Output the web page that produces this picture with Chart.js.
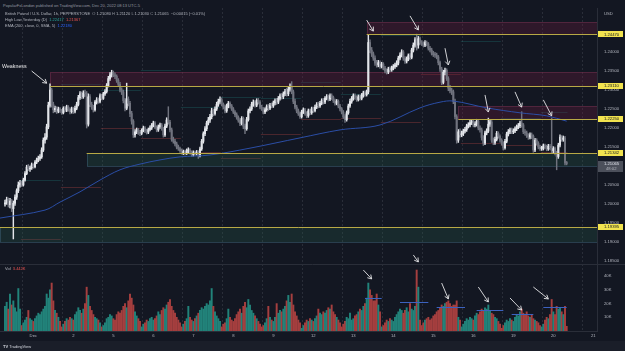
<!DOCTYPE html>
<html><head><meta charset="utf-8">
<script src="https://cdn.jsdelivr.net/npm/chart.js@4.4.0/dist/chart.umd.min.js"></script>
<style>
html,body{margin:0;padding:0;background:#131722;width:625px;height:351px;overflow:hidden;font-family:"Liberation Sans",Arial,sans-serif;}
#wrap{position:relative;width:625px;height:351px;}
canvas{position:absolute;left:0;}
#cPrice{top:8px;width:625px;height:256px;}
#cVol{top:250px;width:625px;height:90px;}
.t{position:absolute;white-space:nowrap;font-size:4px;line-height:5px;color:#b2b5be;}
#foot{position:absolute;left:0;top:341px;width:625px;height:10px;background:#1a1e29;}
</style></head>
<body><div id="wrap">
<canvas id="cPrice" width="625" height="256"></canvas>
<canvas id="cVol" width="625" height="90"></canvas>
<div class="t" style="left:3px;top:3px;color:#9598a1">PopularFxLondon published on TradingView.com, Dec 20, 2022 08:13 UTC-5</div>
<div class="t" style="left:5px;top:11px">British Pound / U.S. Dollar, 1h, PEPPERSTONE&nbsp; <span style="color:#9598a1">O</span> 1.21080 <span style="color:#9598a1">H</span> 1.21120 <span style="color:#9598a1">L</span> 1.21030 <span style="color:#9598a1">C</span> 1.21065 &nbsp;−0.00015 (−0.01%)</div>
<div class="t" style="left:5px;top:17px">High Low Yesterday (D)&nbsp; <span style="color:#26a69a">1.22417</span>&nbsp; <span style="color:#ef5350">1.21367</span></div>
<div class="t" style="left:5px;top:23px">EMA (200, close, 0, SMA, 5)&nbsp; <span style="color:#2962ff">1.22180</span></div>
<div class="t" id="volLbl" style="left:5px;top:266px">Vol&nbsp; <span style="color:#ef5350" id="volVal"></span></div>
<div id="foot"><div class="t" style="left:3px;top:3px;color:#d1d4dc"><b>TV</b> TradingView</div></div>
</div>
<script>
// ---------- DATA ----------
const firstOpen = 1.2000;
const close = [
1.2003,1.2012,1.1998,1.2008,1.1988,1.2002,1.2018,1.2035,1.2050,1.2055,
1.2050,1.2063,1.2080,1.2097,1.2092,1.2095,1.2103,1.2098,1.2110,1.2116,
1.2120,1.2124,1.2142,1.2168,1.2176,1.2203,1.2260,1.2300,1.2262,1.2248,
1.2252,1.2244,1.2250,1.2246,1.2240,1.2252,1.2247,1.2255,1.2249,1.2243,
1.2250,1.2244,1.2252,1.2262,1.2280,1.2290,1.2282,1.2292,1.2290,1.2210,
1.2282,1.2262,1.2255,1.2248,1.2268,1.2274,1.2270,1.2285,1.2278,1.2290,
1.2296,1.2312,1.2330,1.2340,1.2346,1.2340,1.2336,1.2325,1.2315,1.2300,
1.2295,1.2272,1.2252,1.2276,1.2265,1.2238,1.2218,1.2182,1.2190,1.2195,
1.2188,1.2186,1.2194,1.2200,1.2192,1.2189,1.2196,1.2200,1.2207,1.2213,
1.2202,1.2195,1.2203,1.2208,1.2198,1.2182,1.2205,1.2221,1.2215,1.2195,
1.2170,1.2165,1.2158,1.2150,1.2146,1.2140,1.2135,1.2138,1.2134,1.2140,
1.2142,1.2136,1.2130,1.2135,1.2133,1.2136,1.2128,1.2145,1.2165,1.2185,
1.2198,1.2213,1.2221,1.2230,1.2245,1.2238,1.2250,1.2262,1.2270,1.2275,
1.2262,1.2255,1.2245,1.2258,1.2265,1.2258,1.2250,1.2242,1.2235,1.2228,
1.2220,1.2212,1.2225,1.2205,1.2198,1.2222,1.2245,1.2250,1.2262,1.2268,
1.2260,1.2272,1.2268,1.2255,1.2250,1.2242,1.2248,1.2256,1.2252,1.2260,
1.2258,1.2266,1.2272,1.2268,1.2278,1.2285,1.2282,1.2290,1.2296,1.2290,
1.2302,1.2310,1.2295,1.2270,1.2255,1.2245,1.2238,1.2230,1.2242,1.2248,
1.2238,1.2232,1.2245,1.2240,1.2250,1.2246,1.2255,1.2262,1.2258,1.2265,
1.2272,1.2268,1.2278,1.2282,1.2276,1.2285,1.2280,1.2272,1.2265,1.2270,
1.2258,1.2250,1.2242,1.2230,1.2222,1.2240,1.2258,1.2270,1.2278,1.2285,
1.2280,1.2275,1.2282,1.2278,1.2286,1.2292,1.2288,1.2295,1.2425,1.2405,
1.2395,1.2384,1.2371,1.2366,1.2372,1.2362,1.2368,1.2358,1.2350,1.2347,
1.2355,1.2353,1.2358,1.2362,1.2366,1.2371,1.2384,1.2392,1.2400,1.2384,
1.2376,1.2382,1.2390,1.2386,1.2405,1.2418,1.2432,1.2418,1.2435,1.2425,
1.2422,1.2418,1.2425,1.2421,1.2410,1.2405,1.2397,1.2393,1.2392,1.2387,
1.2372,1.2355,1.2320,1.2347,1.2352,1.2330,1.2305,1.2298,1.2295,1.2270,
1.2230,1.2168,1.2190,1.2182,1.2185,1.2192,1.2196,1.2205,1.2208,1.2214,
1.2216,1.2208,1.2210,1.2218,1.2200,1.2195,1.2175,1.2160,1.2187,1.2192,
1.2210,1.2216,1.2168,1.2162,1.2170,1.2186,1.2178,1.2168,1.2160,1.2148,
1.2165,1.2184,1.2190,1.2195,1.2190,1.2192,1.2198,1.2203,1.2206,1.2213,
1.2208,1.2190,1.2187,1.2180,1.2176,1.2182,1.2178,1.2142,1.2168,1.2160,
1.2150,1.2146,1.2147,1.2153,1.2150,1.2145,1.2152,1.2148,1.2140,1.2146,
1.2134,1.2125,1.2155,1.2176,1.2170,1.2174,1.2108,1.21065];
const high = [
1.2010,1.2018,1.2016,1.2015,1.2012,1.2008,1.2024,1.2040,1.2058,1.2062,
1.2060,1.2068,1.2085,1.2102,1.2104,1.2100,1.2108,1.2106,1.2114,1.2121,
1.2126,1.2130,1.2148,1.2174,1.2185,1.2210,1.2268,1.2316,1.2305,1.2268,
1.2258,1.2256,1.2255,1.2254,1.2249,1.2256,1.2257,1.2260,1.2259,1.2253,
1.2255,1.2254,1.2258,1.2268,1.2286,1.2296,1.2295,1.2298,1.2300,1.2296,
1.2290,1.2288,1.2268,1.2260,1.2272,1.2280,1.2279,1.2290,1.2289,1.2294,
1.2301,1.2317,1.2336,1.2346,1.2352,1.2350,1.2345,1.2340,1.2330,1.2320,
1.2306,1.2300,1.2278,1.2318,1.2282,1.2270,1.2244,1.2222,1.2196,1.2200,
1.2199,1.2194,1.2198,1.2205,1.2204,1.2197,1.2200,1.2206,1.2212,1.2218,
1.2217,1.2206,1.2208,1.2213,1.2212,1.2202,1.2210,1.2227,1.2256,1.2220,
1.2200,1.2176,1.2170,1.2163,1.2155,1.2150,1.2145,1.2142,1.2142,1.2145,
1.2148,1.2146,1.2140,1.2140,1.2139,1.2141,1.2140,1.2150,1.2170,1.2190,
1.2204,1.2218,1.2228,1.2236,1.2252,1.2250,1.2256,1.2268,1.2276,1.2282,
1.2279,1.2266,1.2260,1.2263,1.2270,1.2269,1.2262,1.2254,1.2246,1.2240,
1.2232,1.2225,1.2230,1.2229,1.2210,1.2228,1.2250,1.2256,1.2268,1.2274,
1.2272,1.2277,1.2278,1.2272,1.2260,1.2254,1.2253,1.2261,1.2262,1.2265,
1.2266,1.2271,1.2277,1.2278,1.2283,1.2290,1.2291,1.2295,1.2302,1.2305,
1.2308,1.2316,1.2322,1.2300,1.2276,1.2260,1.2250,1.2242,1.2247,1.2253,
1.2252,1.2243,1.2250,1.2250,1.2255,1.2255,1.2260,1.2267,1.2268,1.2270,
1.2277,1.2278,1.2283,1.2288,1.2287,1.2290,1.2290,1.2284,1.2276,1.2275,
1.2274,1.2262,1.2254,1.2246,1.2235,1.2245,1.2263,1.2276,1.2283,1.2290,
1.2290,1.2285,1.2287,1.2287,1.2291,1.2297,1.2298,1.2300,1.2445,1.2432,
1.2412,1.2400,1.2390,1.2378,1.2378,1.2377,1.2373,1.2372,1.2362,1.2356,
1.2360,1.2361,1.2363,1.2367,1.2371,1.2377,1.2389,1.2398,1.2406,1.2404,
1.2388,1.2387,1.2395,1.2396,1.2410,1.2424,1.2438,1.2447,1.2441,1.2439,
1.2430,1.2427,1.2430,1.2429,1.2425,1.2415,1.2410,1.2402,1.2399,1.2397,
1.2391,1.2376,1.2360,1.2352,1.2358,1.2356,1.2335,1.2312,1.2305,1.2300,
1.2276,1.2235,1.2196,1.2198,1.2192,1.2197,1.2202,1.2210,1.2214,1.2220,
1.2222,1.2220,1.2216,1.2223,1.2222,1.2206,1.2200,1.2180,1.2192,1.2198,
1.2226,1.2222,1.2220,1.2174,1.2176,1.2191,1.2190,1.2182,1.2172,1.2164,
1.2170,1.2189,1.2196,1.2200,1.2200,1.2198,1.2203,1.2208,1.2212,1.2218,
1.2243,1.2212,1.2196,1.2192,1.2185,1.2187,1.2187,1.2182,1.2173,1.2172,
1.2164,1.2155,1.2152,1.2158,1.2158,1.2155,1.2157,1.2157,1.2226,1.2151,
1.2150,1.2139,1.2160,1.2182,1.2180,1.2179,1.2178,1.2112];
const low = [
1.1994,1.1999,1.1992,1.1990,1.1980,1.1908,1.1996,1.2012,1.2030,1.2044,
1.2046,1.2047,1.2060,1.2077,1.2088,1.2086,1.2091,1.2094,1.2095,1.2106,
1.2111,1.2115,1.2120,1.2138,1.2160,1.2170,1.2198,1.2255,1.2255,1.2240,
1.2242,1.2238,1.2240,1.2241,1.2236,1.2237,1.2243,1.2243,1.2244,1.2237,
1.2239,1.2238,1.2240,1.2248,1.2258,1.2275,1.2277,1.2278,1.2283,1.2200,
1.2205,1.2256,1.2249,1.2242,1.2244,1.2263,1.2265,1.2266,1.2274,1.2275,
1.2286,1.2292,1.2308,1.2325,1.2334,1.2335,1.2330,1.2320,1.2310,1.2295,
1.2288,1.2266,1.2245,1.2248,1.2258,1.2230,1.2210,1.2175,1.2176,1.2185,
1.2183,1.2180,1.2182,1.2190,1.2188,1.2184,1.2185,1.2192,1.2196,1.2203,
1.2198,1.2190,1.2191,1.2199,1.2194,1.2176,1.2178,1.2201,1.2210,1.2190,
1.2165,1.2160,1.2153,1.2145,1.2141,1.2136,1.2131,1.2130,1.2129,1.2130,
1.2135,1.2131,1.2125,1.2126,1.2128,1.2129,1.2120,1.2124,1.2141,1.2160,
1.2180,1.2193,1.2208,1.2215,1.2224,1.2232,1.2234,1.2246,1.2257,1.2265,
1.2258,1.2250,1.2240,1.2241,1.2253,1.2253,1.2246,1.2238,1.2230,1.2223,
1.2215,1.2206,1.2208,1.2198,1.2185,1.2194,1.2218,1.2240,1.2246,1.2257,
1.2255,1.2256,1.2263,1.2250,1.2246,1.2237,1.2238,1.2244,1.2246,1.2248,
1.2253,1.2254,1.2261,1.2262,1.2264,1.2273,1.2276,1.2277,1.2285,1.2284,
1.2285,1.2297,1.2290,1.2264,1.2250,1.2240,1.2233,1.2225,1.2226,1.2238,
1.2234,1.2227,1.2228,1.2235,1.2236,1.2241,1.2242,1.2251,1.2253,1.2254,
1.2261,1.2263,1.2264,1.2274,1.2271,1.2272,1.2275,1.2267,1.2260,1.2261,
1.2253,1.2245,1.2237,1.2225,1.2215,1.2218,1.2236,1.2254,1.2265,1.2273,
1.2275,1.2270,1.2271,1.2273,1.2274,1.2281,1.2283,1.2284,1.2290,1.2398,
1.2388,1.2378,1.2365,1.2360,1.2361,1.2357,1.2358,1.2353,1.2345,1.2342,
1.2343,1.2348,1.2349,1.2353,1.2357,1.2361,1.2366,1.2379,1.2387,1.2378,
1.2370,1.2371,1.2377,1.2380,1.2382,1.2400,1.2413,1.2405,1.2410,1.2420,
1.2417,1.2413,1.2414,1.2416,1.2405,1.2400,1.2392,1.2388,1.2386,1.2382,
1.2366,1.2349,1.2314,1.2316,1.2340,1.2325,1.2298,1.2292,1.2288,1.2264,
1.2224,1.2160,1.2162,1.2176,1.2177,1.2180,1.2187,1.2191,1.2200,1.2203,
1.2209,1.2203,1.2203,1.2205,1.2195,1.2189,1.2168,1.2154,1.2156,1.2182,
1.2188,1.2204,1.2162,1.2156,1.2157,1.2166,1.2173,1.2163,1.2155,1.2142,
1.2144,1.2161,1.2179,1.2185,1.2185,1.2185,1.2188,1.2193,1.2198,1.2201,
1.2202,1.2185,1.2181,1.2175,1.2170,1.2171,1.2172,1.2136,1.2138,1.2155,
1.2145,1.2141,1.2141,1.2142,1.2145,1.2140,1.2141,1.2143,1.2135,1.2134,
1.2129,1.2090,1.2120,1.2150,1.2165,1.2165,1.2103,1.2103];
const volume = [ // thousands
18,21,16,27,19,22,17,14,31,16,
4,6,8,10,15,9,8,7,9,11,
13,12,14,16,18,27,24,30,35,22,
15,13,10,7,3,5,7,9,8,10,
9,8,12,14,17,15,13,16,20,32,
26,18,15,12,10,9,8,6,3,4,
6,9,10,12,11,9,8,12,14,13,
15,18,20,17,22,27,24,19,14,11,
9,7,3,5,6,8,7,9,10,8,
9,11,14,12,15,17,16,19,21,23,
18,15,13,10,8,6,3,5,7,9,
18,10,8,7,9,11,13,15,17,16,
18,20,19,22,31,18,14,11,9,7,
3,5,6,9,16,10,8,7,9,12,
14,16,13,18,21,17,23,19,15,13,
11,9,7,5,3,4,6,9,18,10,
8,7,10,20,13,15,14,16,18,22,
26,21,27,19,14,11,8,6,2,4,
6,8,7,9,8,7,9,11,16,13,
12,14,13,15,17,16,19,14,12,10,
8,6,3,5,7,10,9,13,8,9,
11,12,14,16,15,18,20,24,35,30,
26,22,22,27,19,14,3,4,6,8,
7,9,8,7,10,12,14,16,15,13,
15,17,14,20,16,15,18,44.5,32,8,
4,6,8,9,10,8,9,11,12,14,
15,17,19,18,20,21,22,20,18,19,
19,22,10,8,3,5,7,9,8,10,
9,8,11,13,12,14,16,15,17,16,
19,15,13,12,10,9,7,5,2,4,
6,8,7,9,8,7,10,12,11,14,
16,13,12,14,11,10,12,9,8,7,
6,4,3,5,8,10,9,12,23,14,
12,18,16,17,14,12,18,3.442];

// EMA(200) (bar index, value)
const emaIdx = [-3,24,33,45,57,69,81,93,105,123,147,177,201,225,249,261,269,289,309,325,337];
const emaVal = [1.1963,1.1984,1.2005,1.2032,1.2063,1.2090,1.2105,1.2116,1.2124,1.2129,1.2147,1.2174,1.2195,1.2208,1.2253,1.2268,1.2271,1.2253,1.2240,1.2232,1.2218];

// axis ticks
const priceTicks = [1.185,1.19,1.195,1.2,1.205,1.21,1.215,1.22,1.225,1.23,1.235,1.24,1.245,1.25];
const volTicks = [10,20,30,40];
const dayTicks = [17,41,65,89,113,137,161,185,209,233,257,281,305,329,353];
const dayLabels = ['Dec','2','5','6','7','8','9','12','13','14','15','16','19','20','21'];
const sessionBreaks = [10,34,58,82,106,130,154,178,202,226,250,274,298,322,346];

// supply / demand zones
const zoneStart  = [217, 27, 272, 49, -3];
const zoneTop    = [1.24789, 1.23461, 1.22579, 1.21342, 1.19395];
const zoneBottom = [1.24470, 1.23110, 1.22250, 1.20987, 1.19013];
const zoneKind   = ['supply','supply','supply','demand','demand'];
// horizontal levels
const levelStart = [217, 27, 272, 49, -3];
const levelPrice = [1.24470, 1.23110, 1.22250, 1.21342, 1.19395];

// annotations: [tailIdx, tailValue, headIdx, headValue]
const priceArrows = [[16,1.2350,25,1.2318],[217,1.2484,221,1.2455],[243,1.2495,248,1.2458],[264,1.2410,266,1.2366],[288,1.2287,290,1.2242],[306,1.2295,310,1.2255],[323,1.2274,328,1.2232]];
const weaknessNote = {idx:-1.8, price:1.2363, text:'Weakness'};
const volArrows = [[215,44.5,220,38],[245,55.5,248,50.4],[262,35,266,23.4],[284,32.1,290,21.2],[303,24.1,310,15.3],[317,32.1,326,23.4]];
const volLevels = [[216,226,24],[237,254,21],[259,276,17.5],[283,299,15.3],[304,317,12.4],[323,337,17.5]];
const countdown = '48:02';

// ---------- RENDER ----------
const xMin = -3, xMax = 355.2;
const pMin = 1.18421, pMax = 1.25158;
const volMax = 48.9;
const FONT = '"Liberation Sans", Arial, sans-serif';
const N = close.length;
const open = close.map((c,i)=> i===0 ? firstOpen : close[i-1]);
const isUp = close.map((c,i)=> c >= open[i]);
const upC = '#e3e5ea', dnC = '#70737e';
const candleColors = isUp.map(u=>u?upC:dnC);
const volColors = isUp.map(u=>u?'#22837a':'#a53f3f');
document.getElementById('volVal').textContent = volume[N-1].toFixed(3)+'K';

function noPad(s){ s.paddingTop=0; s.paddingBottom=0; s.paddingLeft=0; s.paddingRight=0; }
function arrow(ctx,x1,y1,x2,y2){
  const a = Math.atan2(y2-y1,x2-x1), L = 4.5;
  ctx.beginPath(); ctx.moveTo(x1,y1); ctx.lineTo(x2,y2);
  ctx.moveTo(x2-L*Math.cos(a-0.55), y2-L*Math.sin(a-0.55));
  ctx.lineTo(x2,y2);
  ctx.lineTo(x2-L*Math.cos(a+0.55), y2-L*Math.sin(a+0.55));
  ctx.stroke();
}
function vgrid(chart){
  const {ctx, chartArea:a, scales:{x}} = chart;
  ctx.save(); ctx.strokeStyle='#2a2e39'; ctx.lineWidth=1; ctx.setLineDash([2,2]);
  sessionBreaks.forEach(g=>{const X=Math.round(x.getPixelForValue(g))+0.5; if(X>a.right) return; ctx.beginPath(); ctx.moveTo(X,a.top); ctx.lineTo(X,a.bottom); ctx.stroke();});
  ctx.restore();
}

const pricePlugin = {
  id:'pricePlugin',
  beforeDatasetsDraw(chart){
    const {ctx, chartArea:a, scales:{x,y}} = chart;
    vgrid(chart);
    ctx.save();
    ctx.beginPath(); ctx.rect(a.left,a.top,a.right-a.left,a.bottom-a.top); ctx.clip();
    // previous-session high / low (High Low Yesterday)
    const bounds = [0].concat(sessionBreaks.filter(b=>b<N)).concat([N]);
    for(let s=1;s<bounds.length-1;s++){
      const ps=bounds[s-1], pe=bounds[s], st=bounds[s], en=bounds[s+1];
      let ph=-1, pl=9;
      for(let i=ps;i<pe;i++){ph=Math.max(ph,high[i]); pl=Math.min(pl,low[i]);}
      const X0=x.getPixelForValue(st-0.5), X1=x.getPixelForValue(en-0.5);
      ctx.lineWidth=1;
      ctx.strokeStyle='rgba(38,166,154,0.22)';
      ctx.beginPath(); ctx.moveTo(X0,Math.round(y.getPixelForValue(ph))+0.5); ctx.lineTo(X1,Math.round(y.getPixelForValue(ph))+0.5); ctx.stroke();
      ctx.strokeStyle='rgba(239,83,80,0.25)';
      ctx.beginPath(); ctx.moveTo(X0,Math.round(y.getPixelForValue(pl))+0.5); ctx.lineTo(X1,Math.round(y.getPixelForValue(pl))+0.5); ctx.stroke();
    }
    // zones
    zoneStart.forEach((s,k)=>{
      const X0=Math.round(x.getPixelForValue(s)), Y0=Math.round(y.getPixelForValue(zoneTop[k])), Y1=Math.round(y.getPixelForValue(zoneBottom[k]));
      const sup = zoneKind[k]==='supply';
      ctx.fillStyle = sup ? 'rgba(110,28,62,0.30)' : 'rgba(40,100,80,0.25)';
      ctx.fillRect(X0,Y0,a.right-X0,Y1-Y0);
      ctx.strokeStyle = sup ? 'rgba(125,55,85,0.45)' : 'rgba(60,95,115,0.55)';
      ctx.lineWidth=1;
      ctx.strokeRect(X0+0.5,Y0+0.5,a.right-X0,Y1-Y0);
    });
    ctx.restore();
  },
  afterDatasetsDraw(chart){
    const {ctx, chartArea:a, scales:{x,y}} = chart;
    ctx.save();
    ctx.strokeStyle='#b8a945'; ctx.lineWidth=1;
    levelPrice.forEach((p,k)=>{
      const Y=Math.round(y.getPixelForValue(p))+0.5, X0=Math.max(a.left,x.getPixelForValue(levelStart[k]));
      ctx.beginPath(); ctx.moveTo(X0,Y); ctx.lineTo(a.right,Y); ctx.stroke();
    });
    ctx.strokeStyle='#e8e8ea'; ctx.lineWidth=0.9;
    priceArrows.forEach(r=>arrow(ctx,x.getPixelForValue(r[0]),y.getPixelForValue(r[1]),x.getPixelForValue(r[2]),y.getPixelForValue(r[3])));
    ctx.fillStyle='#e8e8ea'; ctx.font='5.3px '+FONT; ctx.textBaseline='middle'; ctx.textAlign='left';
    ctx.fillText(weaknessNote.text, x.getPixelForValue(weaknessNote.idx), y.getPixelForValue(weaknessNote.price));
    ctx.restore();
  },
  afterDraw(chart){
    const {ctx, chartArea:a, scales:{y}} = chart;
    ctx.save();
    ctx.font='4.2px '+FONT; ctx.textBaseline='middle'; ctx.textAlign='left';
    levelPrice.forEach(p=>{
      const Y=y.getPixelForValue(p);
      ctx.fillStyle='#f2e34f'; ctx.fillRect(a.right+1,Math.round(Y)-3,25,6);
      ctx.fillStyle='#131722'; ctx.fillText(p.toFixed(5),a.right+7,Y+0.3);
    });
    const cp = close[N-1], Yc = y.getPixelForValue(cp);
    ctx.fillStyle='#4c505b'; ctx.fillRect(a.right+1,Math.round(Yc)-3,25,11);
    ctx.fillStyle='#e0e3eb'; ctx.fillText(cp.toFixed(5),a.right+7,Yc+0.3);
    ctx.fillStyle='#b2b5be'; ctx.fillText(countdown,a.right+9,Yc+5.3);
    ctx.restore();
  }
};

new Chart(document.getElementById('cPrice'), {
  type:'bar',
  data:{datasets:[
    {type:'line', data: emaIdx.map((v,k)=>({x:v,y:emaVal[k]})), borderColor:'#2b4ea6', borderWidth:1, pointRadius:0, pointHoverRadius:0, tension:0.35, order:0},
    {data: close.map((c,i)=>({x:i,y:[low[i],high[i]]})), backgroundColor:candleColors, barThickness:0.8, grouped:false, order:2},
    {data: close.map((c,i)=>({x:i,y:[open[i],c]})), backgroundColor:candleColors, barThickness:1.4, minBarLength:1, grouped:false, order:1}
  ]},
  options:{
    responsive:false, animation:false, devicePixelRatio:1,
    layout:{padding:0, autoPadding:false},
    plugins:{legend:{display:false}, tooltip:{enabled:false}},
    scales:{
      x:{type:'linear', min:xMin, max:xMax, display:false, offset:false},
      y:{position:'right', min:pMin, max:pMax,
         afterFit:s=>{s.width=28; noPad(s);},
         afterBuildTicks:s=>{s.ticks=priceTicks.map(v=>({value:v}));},
         ticks:{padding:7, color:'#b2b5be', font:{size:4.2, family:FONT}, callback:v=> v===1.25?'USD':Number(v).toFixed(5)},
         grid:{display:false, drawTicks:false},
         border:{display:true, color:'#2a2e39'}}
    }
  },
  plugins:[pricePlugin]
});

const volPlugin = {
  id:'volPlugin',
  beforeDatasetsDraw(chart){
    const {ctx, chartArea:a} = chart;
    vgrid(chart);
    ctx.save(); ctx.strokeStyle='#2a2e39'; ctx.lineWidth=1;
    ctx.beginPath(); ctx.moveTo(0,Math.round(a.top)+0.5); ctx.lineTo(chart.width,Math.round(a.top)+0.5); ctx.stroke();
    ctx.restore();
  },
  afterDatasetsDraw(chart){
    const {ctx, scales:{x,y}} = chart;
    ctx.save();
    ctx.strokeStyle='#3c62c0'; ctx.lineWidth=1;
    volLevels.forEach(r=>{const Y=Math.round(y.getPixelForValue(r[2]))+0.5; ctx.beginPath(); ctx.moveTo(x.getPixelForValue(r[0]),Y); ctx.lineTo(x.getPixelForValue(r[1]),Y); ctx.stroke();});
    ctx.strokeStyle='#e8e8ea'; ctx.lineWidth=0.9;
    volArrows.forEach(r=>arrow(ctx,x.getPixelForValue(r[0]),y.getPixelForValue(r[1]),x.getPixelForValue(r[2]),y.getPixelForValue(r[3])));
    ctx.restore();
  }
};

new Chart(document.getElementById('cVol'), {
  type:'bar',
  data:{datasets:[{data: volume.map((v,i)=>({x:i,y:v})), backgroundColor:volColors, barThickness:1.3, grouped:false}]},
  options:{
    responsive:false, animation:false, devicePixelRatio:1,
    layout:{padding:{top:14,left:0,right:0,bottom:0}, autoPadding:false},
    plugins:{legend:{display:false}, tooltip:{enabled:false}},
    scales:{
      x:{type:'linear', min:xMin, max:xMax, offset:false,
         afterFit:s=>{s.height=9; noPad(s);},
         afterBuildTicks:s=>{s.ticks=dayTicks.map(v=>({value:v}));},
         ticks:{autoSkip:false, maxRotation:0, padding:2, color:'#b2b5be', font:{size:4.2, family:FONT}, callback:(v,k)=>dayLabels[k]},
         grid:{display:false, drawTicks:false},
         border:{display:true, color:'#2a2e39'}},
      y:{position:'right', min:0, max:volMax,
         afterFit:s=>{s.width=28; noPad(s);},
         afterBuildTicks:s=>{s.ticks=volTicks.map(v=>({value:v}));},
         ticks:{padding:7, color:'#b2b5be', font:{size:4.2, family:FONT}, callback:v=>v+'K'},
         grid:{display:false, drawTicks:false},
         border:{display:true, color:'#2a2e39'}}
    }
  },
  plugins:[volPlugin]
});
</script>
</body></html>
